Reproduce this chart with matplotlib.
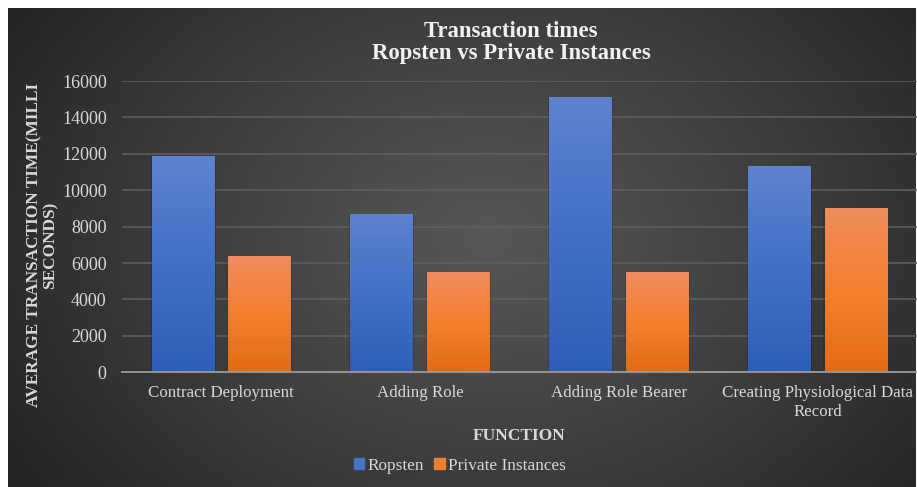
import numpy as np
import matplotlib
matplotlib.use('Agg')
import matplotlib.pyplot as plt
from matplotlib.patches import Rectangle


functions = ['Contract Deployment', 'Adding Role', 'Adding Role Bearer',
             'Creating Physiological Data\nRecord']
ropsten = [11830, 8640, 15070, 11280]
private_instances = [6330, 5450, 5450, 8970]
series_names = ['Ropsten', 'Private Instances']
y_ticks = [0, 2000, 4000, 6000, 8000, 10000, 12000, 14000, 16000]

W, H = 917, 487
FONT = ['Liberation Serif', 'DejaVu Serif']
TXT = '#d9d9d9'

plt.rcParams['font.family'] = FONT


def radial_background(fig):
    # dark grey radial fill behind the chart, white margin top/left
    bg = fig.add_axes([8 / W, 0, 908 / W, 479 / H], zorder=-2)
    yy, xx = np.mgrid[0:479, 0:908]
    cx, cy = 480, 230
    r = np.sqrt(((xx - cx) / 560.0) ** 2 + ((yy - cy) / 420.0) ** 2)
    r = np.clip(r, 0, 1) ** 1.1
    c0 = np.array([0.34, 0.34, 0.34])
    c1 = np.array([0.145, 0.145, 0.145])
    img = c0[None, None, :] * (1 - r[..., None]) + c1[None, None, :] * r[..., None]
    bg.imshow(img, aspect='auto', interpolation='bilinear')
    bg.axis('off')


def gradient_bars(ax, bars, top, mid, bottom):
    n = 64
    t = np.linspace(0, 1, n)[:, None]
    top, mid, bottom = np.array(top), np.array(mid), np.array(bottom)
    col = np.where(t < 0.5,
                   top * (1 - t * 2) + mid * (t * 2),
                   mid * (2 - t * 2) + bottom * (t * 2 - 1))
    img = np.repeat(col[:, None, :], 2, axis=1)
    for b in bars:
        x0 = b.get_x()
        w = b.get_width()
        h = b.get_height()
        # soft shadow
        ax.add_patch(Rectangle((x0 - 0.006, 0), w + 0.012, h + 60,
                               facecolor='black', alpha=0.15, zorder=2, lw=0))
        ax.imshow(img, extent=[x0, x0 + w, 0, h], aspect='auto',
                  interpolation='bilinear', zorder=3)


def chart():
    fig = plt.figure(figsize=(W / 100, H / 100), dpi=100)
    fig.patch.set_facecolor('white')
    radial_background(fig)

    ax = fig.add_axes([122 / W, 1 - 372.3 / H, 795 / W, (372.3 - 81) / H])
    ax.set_facecolor('none')

    x = np.arange(len(functions))
    off = 0.193
    width = 0.315
    b1 = ax.bar(x - off, ropsten, width, color='none', zorder=3)
    b2 = ax.bar(x + off, private_instances, width, color='none', zorder=3)
    gradient_bars(ax, b1, (0.37, 0.51, 0.81), (0.26, 0.44, 0.78), (0.18, 0.37, 0.72))
    gradient_bars(ax, b2, (0.94, 0.55, 0.37), (0.96, 0.50, 0.18), (0.89, 0.42, 0.09))

    ax.set_xlim(-0.5, len(functions) - 0.5)
    ax.set_ylim(0, 16000)
    ax.set_yticks(y_ticks)
    ax.set_yticklabels([str(v) for v in y_ticks], fontsize=13)
    ax.set_xticks(x)
    ax.set_xticklabels(functions, fontsize=12.2, linespacing=1.25)
    ax.tick_params(axis='both', length=0, colors=TXT)
    ax.tick_params(axis='y', pad=11)
    ax.tick_params(axis='x', pad=9.5)

    ax.grid(axis='y', color='#5e5e5e', linewidth=1.2, zorder=0)
    ax.set_axisbelow(True)
    for s in ['top', 'right', 'left']:
        ax.spines[s].set_visible(False)
    ax.spines['bottom'].set_color('#9a9a9a')
    ax.spines['bottom'].set_linewidth(1.3)
    ax.spines['bottom'].set_zorder(5)

    fig.text(511 / W, 1 - 42.5 / H, 'Transaction times\nRopsten vs Private Instances',
             ha='center', va='center', fontsize=16.4, fontweight='bold',
             color='#f2f2f2', linespacing=1.02)

    fig.text(42 / W, 1 - 245 / H, 'AVERAGE TRANSACTION TIME(MILLI\nSECONDS)',
             ha='center', va='center', rotation=90, fontsize=12.4,
             fontweight='bold', color=TXT, multialignment='center',
             linespacing=1.0)

    fig.text(519 / W, 1 - 436 / H, 'FUNCTION', ha='center', va='center',
             fontsize=12.5, fontweight='bold', color=TXT)

    handles = [Rectangle((0, 0), 1, 1, color='#4472c4'),
               Rectangle((0, 0), 1, 1, color='#ed7d31')]
    fig.legend(handles, series_names, loc='center', ncol=2,
               bbox_to_anchor=(460 / W, 1 - 466 / H), frameon=False,
               fontsize=12.4, labelcolor=TXT, handlelength=0.6,
               handleheight=0.6, handletextpad=0.2, columnspacing=0.6)

    plt.savefig('out.png', dpi=100)
    plt.close()


if __name__ == "__main__":
    chart()
